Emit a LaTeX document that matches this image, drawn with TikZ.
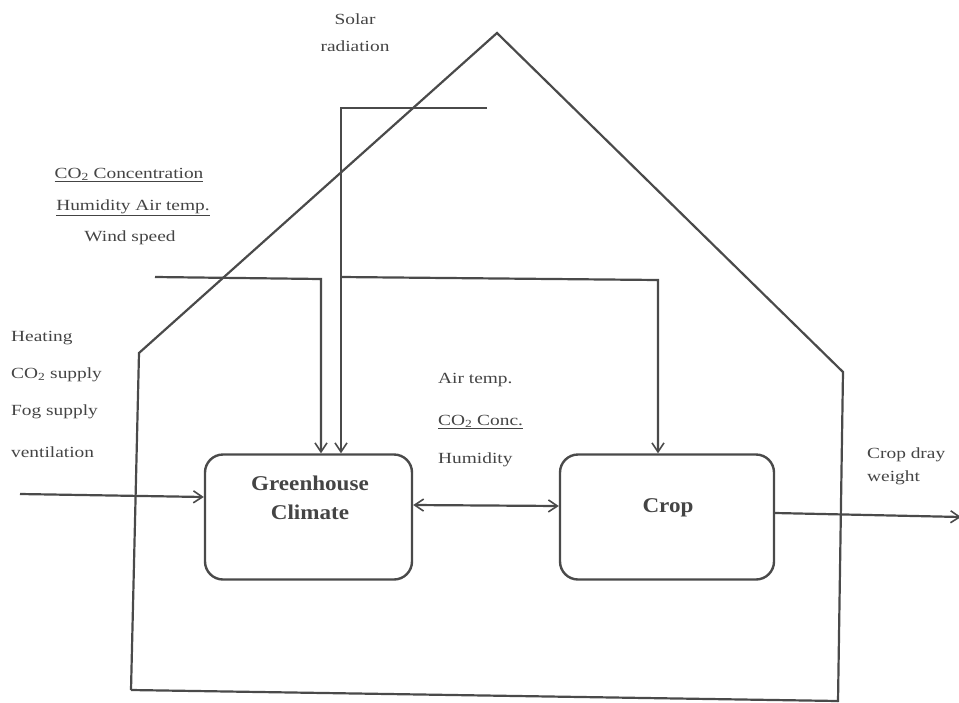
\documentclass[tikz,border=0pt]{standalone}
\usepackage{fontspec}
\setmainfont{Liberation Serif}
\newfontfamily\lblfont[FakeStretch=1.25]{Liberation Serif}
\newfontfamily\boxfont[FakeStretch=1.1]{Liberation Serif}
\usetikzlibrary{arrows.meta}
\definecolor{ink}{HTML}{4A4A4A}
\definecolor{txt}{HTML}{444444}
\begin{document}
\begin{tikzpicture}[x=1pt,y=-1pt,
  line/.style={draw=ink,line width=2.2pt},
  tip/.tip={Straight Barb[length=9pt,width=12pt,line width=1.6pt]},
  arr/.style={line,-tip},
  darr/.style={line,tip-tip},
  procbox/.style={draw=ink,line width=2.4pt,rounded corners=18pt,minimum height=125pt},
  boxtxt/.style={text=txt,font=\boxfont\fontsize{21}{29}\selectfont\bfseries,align=center,inner sep=0pt},
  lbl/.style={text=txt,font=\lblfont\fontsize{15.5}{27}\selectfont,inner sep=0pt},
  lbll/.style={lbl,anchor=west},
  lblc/.style={lbl,align=center}
]
\useasboundingbox (0,0) rectangle (959,702);
% house outline
\draw[line] (131,690) -- (139,353) -- (497,33) -- (843,372) -- (838,702);
\draw[line] (131,690) -- (838,701);
% process boxes
\node[procbox,minimum width=207pt] (gc) at (308.5,517) {};
\node[boxtxt] (gct) at (310,498) {Greenhouse\\Climate};
\node[procbox,minimum width=214pt] (crop) at (667,517) {};
\node[boxtxt] (cropt) at (668,508) {Crop};
% free ends
\coordinate (sr) at (487,108);
\coordinate (srcorner) at (341,108);
\coordinate (branch) at (341,277);
\coordinate (cropturn) at (658,280);
\coordinate (co2in) at (155,277);
\coordinate (co2turn) at (321,279);
\coordinate (heatin) at (20,494);
\coordinate (outend) at (961,517);
% connectors
\draw[arr] (sr) -- (srcorner) -- (srcorner |- gc.north);
\draw[arr] (branch) -- (cropturn) -- (cropturn |- crop.north);
\draw[arr] (co2in) -- (co2turn) -- (co2turn |- gc.north);
\draw[arr] (heatin) -- ([yshift=20pt]gc.west);
\draw[darr] ([yshift=12pt]gc.east) -- ([yshift=11pt]crop.west);
\draw[arr] ([yshift=4pt]crop.east) -- (outend);
% labels
\node[lblc] (solar) at (355,33) {Solar\\radiation};
\node[lbl] (ext1) at (129,175) {\underline{CO\textsubscript{2} Concentration}};
\node[lbl] (ext2) at (133,208) {\underline{Humidity Air temp.}};
\node[lbl] (ext3) at (130,238) {Wind speed};
\node[lbll] (ctl1) at (11,338) {Heating};
\node[lbll] (ctl2) at (11,375) {CO\textsubscript{2} supply};
\node[lbll] (ctl3) at (11,412) {Fog supply};
\node[lbll] (ctl4) at (11,452) {ventilation};
\node[lbll] (ex1) at (438,380) {Air temp.};
\node[lbll] (ex2) at (438,422) {\underline{CO\textsubscript{2} Conc.}};
\node[lbll] (ex3) at (438,460) {Humidity};
\node[lbll,align=left,font=\lblfont\fontsize{15.5}{23}\selectfont] (outl) at (867,466) {Crop dray\\weight};
\end{tikzpicture}
\end{document}
